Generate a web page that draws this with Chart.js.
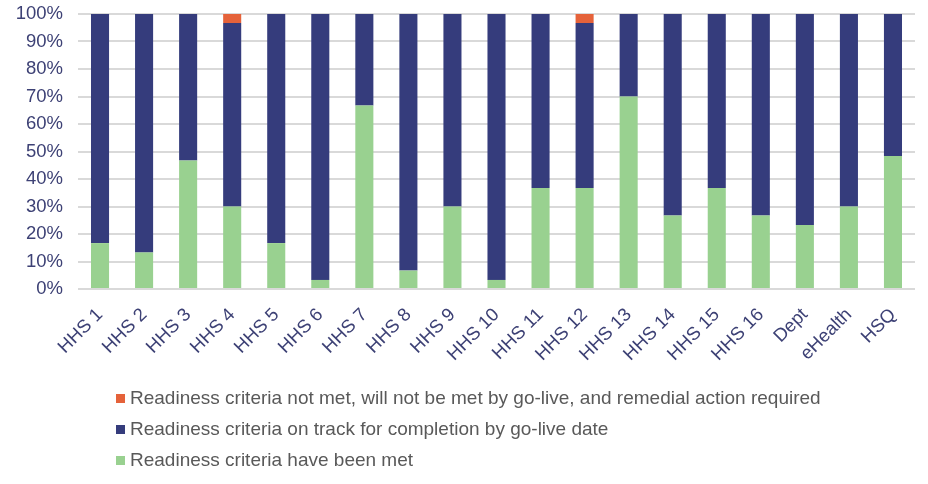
<!DOCTYPE html>
<html>
<head>
<meta charset="utf-8">
<script src="https://cdn.jsdelivr.net/npm/chart.js@4"></script>
<style>
  html, body { margin: 0; padding: 0; background: #fff; }
  #wrap { width: 928px; height: 484px; }
</style>
</head>
<body>
<div id="wrap"><canvas id="chart" width="928" height="484"></canvas></div>
<script>
// data (percent of readiness criteria)
const categories = ['HHS 1', 'HHS 2', 'HHS 3', 'HHS 4', 'HHS 5', 'HHS 6', 'HHS 7', 'HHS 8', 'HHS 9', 'HHS 10',
  'HHS 11', 'HHS 12', 'HHS 13', 'HHS 14', 'HHS 15', 'HHS 16', 'Dept', 'eHealth', 'HSQ'];
const metValues = [16.7, 13.3, 46.7, 30, 16.7, 3.3, 66.7, 6.7, 30, 3.3, 36.7, 36.7, 70, 26.7, 36.7, 26.7, 23.3, 30, 48.4];
const onTrackValues = [83.3, 86.7, 53.3, 66.7, 83.3, 96.7, 33.3, 93.3, 70, 96.7, 63.3, 60, 30, 73.3, 63.3, 73.3, 76.7, 70, 51.6];
const notMetValues = [0, 0, 0, 3.3, 0, 0, 0, 0, 0, 0, 0, 3.3, 0, 0, 0, 0, 0, 0, 0];
const seriesNames = [
  'Readiness criteria have been met',
  'Readiness criteria on track for completion by go-live date',
  'Readiness criteria not met, will not be met by go-live, and remedial action required'
];
const yTicks = [0, 10, 20, 30, 40, 50, 60, 70, 80, 90, 100];

const FONT = '"Liberation Sans", Arial, sans-serif';
const axisText = '#3d4175';

// legend drawn as a vertical list under the axis, like the original
const listLegend = {
  id: 'listLegend',
  afterDraw(chart) {
    const ctx = chart.ctx;
    const sets = chart.data.datasets.slice().reverse();
    ctx.save();
    ctx.font = '19px ' + FONT;
    ctx.textBaseline = 'middle';
    sets.forEach((ds, i) => {
      const y = 399 + i * 31;
      ctx.fillStyle = ds.backgroundColor;
      ctx.fillRect(116, y - 5, 9, 9);
      ctx.fillStyle = '#595959';
      ctx.fillText(ds.label, 130, y);
    });
    ctx.restore();
  }
};

new Chart(document.getElementById('chart'), {
  type: 'bar',
  data: {
    labels: categories,
    datasets: [
      { label: seriesNames[0], data: metValues, backgroundColor: '#99d190' },
      { label: seriesNames[1], data: onTrackValues, backgroundColor: '#353c7c' },
      { label: seriesNames[2], data: notMetValues, backgroundColor: '#e5623a' }
    ]
  },
  options: {
    responsive: false,
    animation: false,
    devicePixelRatio: 1,
    layout: { padding: { top: 14, right: 13, bottom: 0, left: 0 } },
    datasets: { bar: { categoryPercentage: 1, barPercentage: 0.41 } },
    plugins: {
      legend: { display: false },
      tooltip: { enabled: false }
    },
    scales: {
      x: {
        stacked: true,
        grid: { display: false },
        border: { display: false },
        afterFit: (s) => { s.height = 195; s.paddingLeft = 0; s.paddingRight = 0; },
        ticks: {
          color: axisText,
          font: { family: FONT, size: 18.5 },
          minRotation: 45,
          maxRotation: 45,
          padding: 7
        }
      },
      y: {
        stacked: true,
        min: 0,
        max: 100,
        afterFit: (s) => { s.width = 78; s.paddingTop = 0; s.paddingBottom = 0; },
        afterBuildTicks: (s) => { s.ticks = yTicks.map(v => ({ value: v })); },
        border: { display: false },
        grid: { color: '#d9d9d9', lineWidth: 2, drawTicks: false },
        ticks: {
          color: axisText,
          font: { family: FONT, size: 18.5 },
          padding: 15,
          callback: (v) => v + '%'
        }
      }
    }
  },
  plugins: [listLegend]
});
</script>
</body>
</html>
